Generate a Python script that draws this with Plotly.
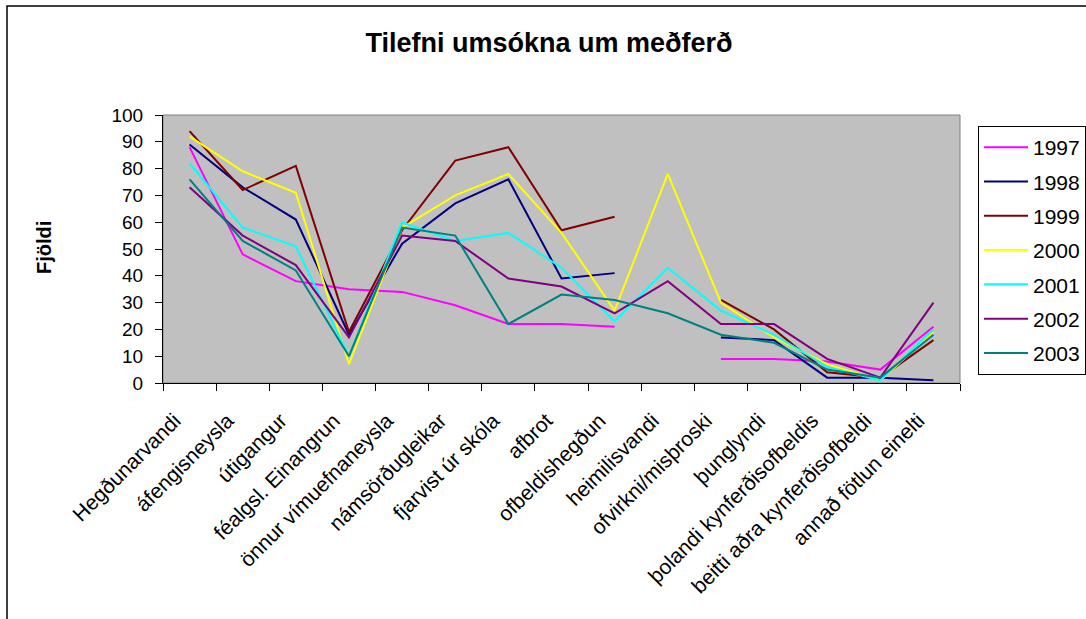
import plotly.graph_objects as go

# flokkar (x-ás)
categories = [
    "Hegðunarvandi", "áfengisneysla", "útigangur", "féalgsl. Einangrun",
    "önnur vímuefnaneysla", "námsörðugleikar", "fjarvist úr skóla", "afbrot",
    "ofbeldishegðun", "heimilisvandi", "ofvirkni/misþroski", "þunglyndi",
    "þolandi kynferðisofbeldis", "beitti aðra kynferðisofbeldi", "annað fötlun einelti",
]

years = ["1997", "1998", "1999", "2000", "2001", "2002", "2003"]

v1997 = [88, 48, 38, 35, 34, 29, 22, 22, 21, None, 9, 9, 8, 5, 21]
v1998 = [89, 73, 61, 18, 52, 67, 76, 39, 41, None, 17, 16, 2, 2, 1]
v1999 = [94, 72, 81, 19, 57, 83, 88, 57, 62, None, 31, 20, 4, 2, 16]
v2000 = [92, 79, 71, 7, 58, 70, 78, 56, 27, 78, 30, 17, 7, 1, 19]
v2001 = [82, 58, 51, 10, 60, 53, 56, 43, 23, 43, 27, 18, 6, 1, 20]
v2002 = [73, 55, 44, 17, 55, 53, 39, 36, 26, 38, 22, 22, 9, 2, 30]
v2003 = [76, 53, 42, 10, 58, 55, 22, 33, 31, 26, 18, 15, 5, 2, 18]

series = [v1997, v1998, v1999, v2000, v2001, v2002, v2003]
colors = ["#FF00FF", "#000080", "#800000", "#FFFF00", "#00FFFF", "#800080", "#008080"]

FONT = "Liberation Sans, Arial, sans-serif"

# plot area in pixels: x 163-960, y 115-383
W, H = 1086, 619
L, R, T, B = 163, 960, 115, 383


def px_x(p):
    return (p - L) / (R - L)


def px_y(p):
    return (B - p) / (B - T)


fig = go.Figure()

for i, (yr, vals) in enumerate(zip(years, series)):
    fig.add_trace(go.Scatter(
        x=categories, y=vals, name=yr, mode="lines",
        line=dict(color=colors[i], width=2),
        legendgroup=yr,
    ))

fig.update_layout(
    width=W, height=H,
    margin=dict(l=L, r=W - R, t=T, b=H - B, autoexpand=False),
    paper_bgcolor="white",
    plot_bgcolor="#C0C0C0",
    font=dict(family=FONT, size=20, color="black"),
    showlegend=True,
    title=dict(
        text="<b>Tilefni umsókna um meðferð</b>",
        x=549 / W, xanchor="center",
        y=1 - 43 / H, yanchor="middle",
        font=dict(family=FONT, size=27, color="black"),
    ),
    legend=dict(
        x=px_x(978), xanchor="left",
        y=px_y(126), yanchor="top",
        bgcolor="white", bordercolor="black", borderwidth=1,
        font=dict(family=FONT, size=21, color="black"),
        tracegroupgap=4,
        itemwidth=44,
    ),
)

fig.update_xaxes(
    type="category",
    range=[-0.5, len(categories) - 0.5],
    tickson="boundaries",
    ticks="outside", ticklen=7, tickcolor="black",
    tickangle=-45,
    ticklabelshift=-15, ticklabelstandoff=16,
    showline=True, linecolor="black", linewidth=1,
    showgrid=False, zeroline=False,
    tickfont=dict(family=FONT, size=21, color="black"),
)
fig.update_yaxes(
    range=[0, 100], dtick=10,
    ticks="outside", ticklen=7, tickcolor="black",
    ticklabelstandoff=8,
    showline=True, linecolor="black", linewidth=1,
    showgrid=False, zeroline=False,
    tickfont=dict(family=FONT, size=19, color="black"),
)

# grár rammi um teiknisvæðið
fig.add_shape(type="rect", xref="paper", yref="paper", x0=0, x1=1, y0=0, y1=1,
              line=dict(color="#808080", width=1), layer="below")
# ytri rammi myndarinnar
fig.add_shape(type="rect", xref="paper", yref="paper",
              x0=px_x(7), x1=px_x(1100), y0=px_y(640), y1=px_y(6),
              line=dict(color="black", width=1.5))

fig.add_annotation(
    text="<b>Fjöldi</b>", textangle=-90,
    xref="paper", yref="paper", x=px_x(44), y=px_y(248),
    xanchor="center", yanchor="middle",
    showarrow=False, font=dict(family=FONT, size=20, color="black"),
)

fig.write_html("out.html", config={"displayModeBar": False},
               post_script="document.body.style.margin='0';")
